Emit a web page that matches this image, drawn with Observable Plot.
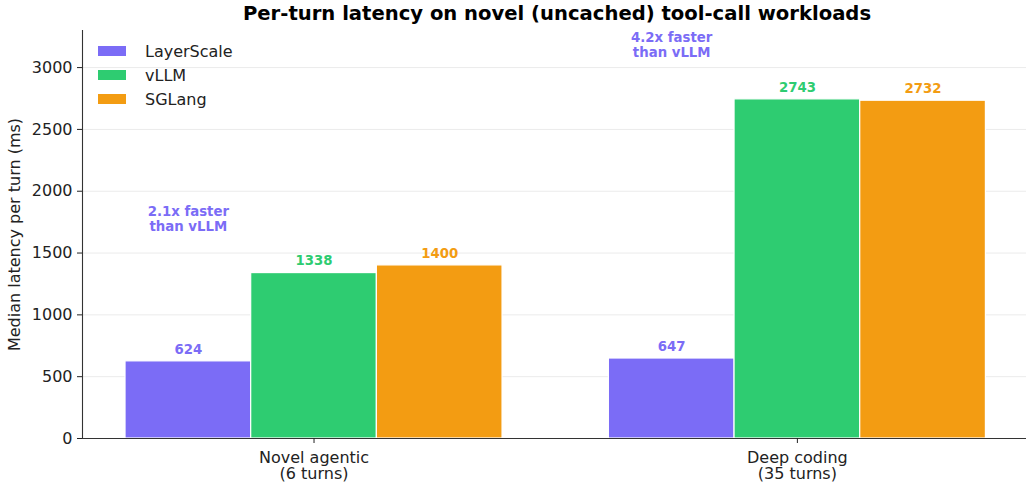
<!DOCTYPE html>
<html>
<head>
<meta charset="utf-8">
<script src="https://cdn.jsdelivr.net/npm/d3@7"></script>
<script src="https://cdn.jsdelivr.net/npm/@observablehq/plot@0.6"></script>
<style>
  html, body { margin: 0; padding: 0; background: #fff; }
  body { font-family: "DejaVu Sans", sans-serif; width: 1026px; height: 484px; position: relative; overflow: hidden; }
  #title { height: 28px; line-height: 28px; font-size: 19.6px; font-weight: bold; color: #000; text-align: center; padding-left: 88px; box-sizing: border-box; width: 1026px; white-space: nowrap; }
  #legend { position: absolute; left: 98px; top: 39px; font-size: 16px; color: #222; }
  #legend .row { height: 24px; display: flex; align-items: center; }
  #legend .sw { width: 28px; height: 10px; margin-right: 19px; }
  svg { display: block; }
</style>
</head>
<body>
<div id="title"></div>
<div id="chart"></div>
<div id="legend"></div>
<script>
// ---- data ----
const titleText = "Per-turn latency on novel (uncached) tool-call workloads";
const categories = ["Novel agentic\n(6 turns)", "Deep coding\n(35 turns)"];
const series = ["LayerScale", "vLLM", "SGLang"];
const layerScale = [624, 647];
const vllm = [1338, 2743];
const sglang = [1400, 2732];
const seriesColors = ["#7b6cf6", "#2ecc71", "#f39c12"];
const speedupLabels = ["2.1x faster\nthan vLLM", "4.2x faster\nthan vLLM"];
const speedupLabelY = [1776, 3187];
const yTicks = [0, 500, 1000, 1500, 2000, 2500, 3000];
const yLabel = "Median latency per turn (ms)";

// ---- build table ----
const barWidth = 0.26;
const valuesBySeries = [layerScale, vllm, sglang];
const bars = [];
categories.forEach((cat, gi) => {
  series.forEach((s, si) => {
    const c = gi + (si - 1) * barWidth;
    bars.push({group: cat, series: s, value: valuesBySeries[si][gi],
               x1: c - barWidth / 2, x2: c + barWidth / 2, xc: c, color: seriesColors[si]});
  });
});
const notes = categories.map((cat, gi) => ({x: gi - barWidth, y: speedupLabelY[gi], text: speedupLabels[gi]}));

const xDomain = [-0.479, 1.474];
const yDomain = [0, 3300];
const font = "DejaVu Sans";

document.getElementById("title").textContent = titleText;

const chart = Plot.plot({
  width: 1026,
  height: 456,
  marginTop: 2,
  marginBottom: 46,
  marginLeft: 82,
  marginRight: 0,
  style: {fontFamily: font, background: "#fff", color: "#222"},
  x: {domain: xDomain, axis: null},
  y: {domain: yDomain, axis: null},
  marks: [
    Plot.gridY(yTicks, {stroke: "#ebebeb", strokeOpacity: 1, strokeWidth: 1}),
    Plot.rectY(bars, {x1: "x1", x2: "x2", y: "value", fill: "color", stroke: "white", strokeWidth: 1.2}),
    Plot.text(bars, {x: "xc", y: "value", text: d => String(d.value), fill: "color", dy: -12,
                     fontWeight: "bold", fontSize: 13.3}),
    Plot.text(notes, {x: "x", y: "y", text: "text", fill: seriesColors[0], fontWeight: "bold",
                      fontSize: 13.3, lineHeight: 1.12}),
    Plot.ruleX([xDomain[0]], {y1: yDomain[0], y2: yDomain[1], stroke: "#333", strokeWidth: 1.1}),
    Plot.ruleY([0], {stroke: "#333", strokeWidth: 1.1}),
    Plot.axisY({ticks: yTicks, tickFormat: d => String(d), tickSize: 5, tickPadding: 5, fontSize: 16,
                label: yLabel, labelAnchor: "center", labelArrow: "none", labelOffset: 74, color: "#222"}),
    Plot.axisX({ticks: [0, 1], tickFormat: i => categories[i], tickSize: 5, tickPadding: 8,
                fontSize: 16, lineHeight: 1.02, label: null, color: "#222"})
  ]
});
document.getElementById("chart").appendChild(chart);

const legend = document.getElementById("legend");
series.forEach((s, i) => {
  const row = document.createElement("div");
  row.className = "row";
  const sw = document.createElement("div");
  sw.className = "sw";
  sw.style.background = seriesColors[i];
  const t = document.createElement("span");
  t.textContent = s;
  row.appendChild(sw);
  row.appendChild(t);
  legend.appendChild(row);
});
</script>
</body>
</html>
